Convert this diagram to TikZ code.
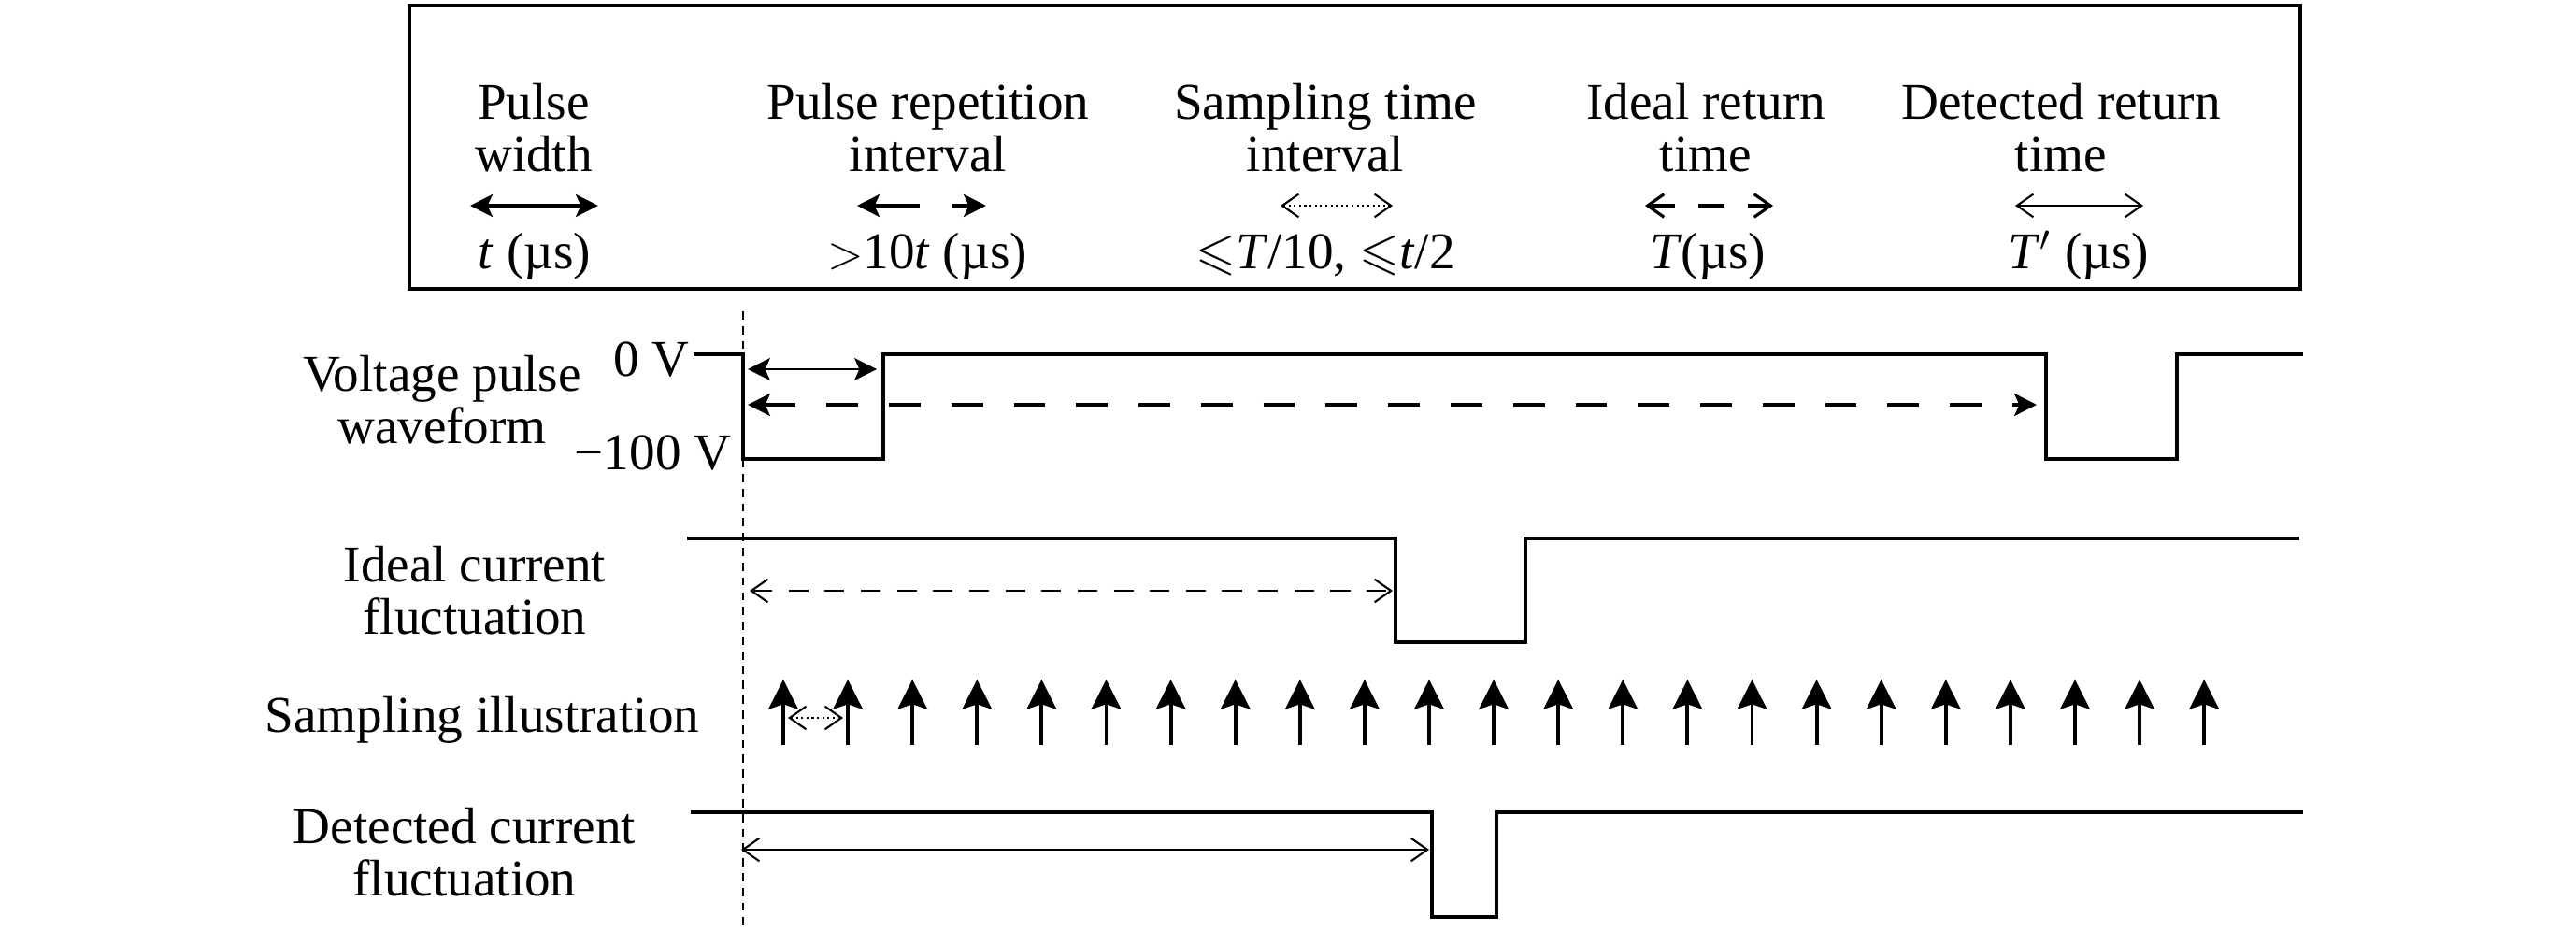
\documentclass[tikz,border=0pt]{standalone}
\usepackage{fontspec}
\setmainfont{Liberation Serif}
\usepackage{amssymb}
\usetikzlibrary{arrows.meta}

\begin{document}
\begin{tikzpicture}[
  every node/.style={font=\fontsize{15.7}{16}\selectfont, inner sep=0pt},
  lbl/.style={align=center},
  wave/.style={line width=1.3pt},
  fillarr/.style={{Stealth[length=6.8pt,width=6.8pt,inset=1.5pt]}-{Stealth[length=6.8pt,width=6.8pt,inset=1.5pt]}},
  openarr/.style={{Straight Barb[length=5pt,width=7pt]}-{Straight Barb[length=5pt,width=7pt]}},
  samp/.style={line width=1.1pt, -{Stealth[length=9pt,width=9pt,inset=1.5pt]}}
]

\useasboundingbox (0,0) rectangle (27.56,9.95);

% legend box
\draw[line width=0.9pt] (4.38,6.86) rectangle (24.61,9.89);

% legend: names
\node[lbl] (pw) at (5.71,8.58) {Pulse\\width};
\node[lbl] (pri) at (9.93,8.58) {Pulse repetition\\interval};
\node[lbl] (sti) at (14.18,8.58) {Sampling time\\interval};
\node[lbl] (irt) at (18.25,8.58) {Ideal return\\time};
\node[lbl] (drt) at (22.05,8.58) {Detected return\\time};

% legend: line keys
\draw[fillarr, line width=1pt] (5.03,7.75) -- (6.40,7.75);
\draw[fillarr, line width=1.1pt, dash pattern=on 14pt off 10pt] (9.17,7.75) -- (10.55,7.75);
\draw[openarr, line width=0.6pt, densely dotted] (13.70,7.75) -- (14.90,7.75);
\draw[openarr, line width=0.9pt, dash pattern=on 8pt off 7pt] (17.60,7.75) -- (18.97,7.75);
\draw[openarr, line width=0.6pt] (21.56,7.75) -- (22.93,7.75);

% legend: values
\node[anchor=base] (pwval) at (5.72,7.08) {\textit{t} (µs)};
\node[anchor=base] (prival) at (9.92,7.08) {$>$10\textit{t} (µs)};
\node[anchor=base] (stival) at (14.18,7.08) {$\leqslant$\textit{T}/10, $\leqslant$\textit{t}/2};
\node[anchor=base] (irtval) at (18.27,7.08) {\textit{T}(µs)};
\node[anchor=base] (drtval) at (22.24,7.08) {\textit{T}$'$ (µs)};

% start of the pulse
\draw[line width=0.6pt, dash pattern=on 2.5pt off 2pt] (7.95,6.62) -- (7.95,0);

% voltage pulse waveform
\draw[wave] (7.42,6.16) -- (7.95,6.16) -- (7.95,5.04) -- (9.45,5.04) -- (9.45,6.16) -- (21.89,6.16) -- (21.89,5.04) -- (23.29,5.04) -- (23.29,6.16) -- (24.64,6.16);
\node[anchor=base east] (zero) at (7.38,5.93) {0 V};
\node[anchor=base east] (low) at (7.83,4.93) {−100 V};
\node[lbl] (vpw) at (4.73,5.67) {Voltage pulse\\waveform};
\draw[fillarr, line width=0.6pt] (8.00,6.00) -- (9.38,6.00); % width
\draw[fillarr, line width=1.1pt, dash pattern=on 9.6pt off 9.4pt] (8.00,5.62) -- (21.79,5.62); % repetition

% ideal current fluctuation
\draw[line width=1pt] (7.35,4.19) -- (14.93,4.19) -- (14.93,3.08) -- (16.32,3.08) -- (16.32,4.19) -- (24.60,4.19);
\node[lbl] (icf) at (5.08,3.63) {Ideal current\\fluctuation};
\draw[openarr, line width=0.6pt, dash pattern=on 6pt off 5pt] (8.02,3.63) -- (14.90,3.63);

% sampling illustration
\foreach \i in {0,...,22}
  \draw[samp] ({8.38+0.691*\i},1.98) -- ++(0,0.70);
\draw[openarr, line width=0.6pt, densely dotted] (8.43,2.27) -- (9.02,2.27);
\node[anchor=base] (si) at (5.16,2.12) {Sampling illustration};

% detected current fluctuation
\draw[wave] (7.39,1.26) -- (15.32,1.26) -- (15.32,0.14) -- (16.01,0.14) -- (16.01,1.26) -- (24.64,1.26);
\node[lbl] (dcf) at (4.97,0.83) {Detected current\\fluctuation};
\draw[openarr, line width=0.6pt] (7.93,0.86) -- (15.29,0.86);

\end{tikzpicture}
\end{document}
